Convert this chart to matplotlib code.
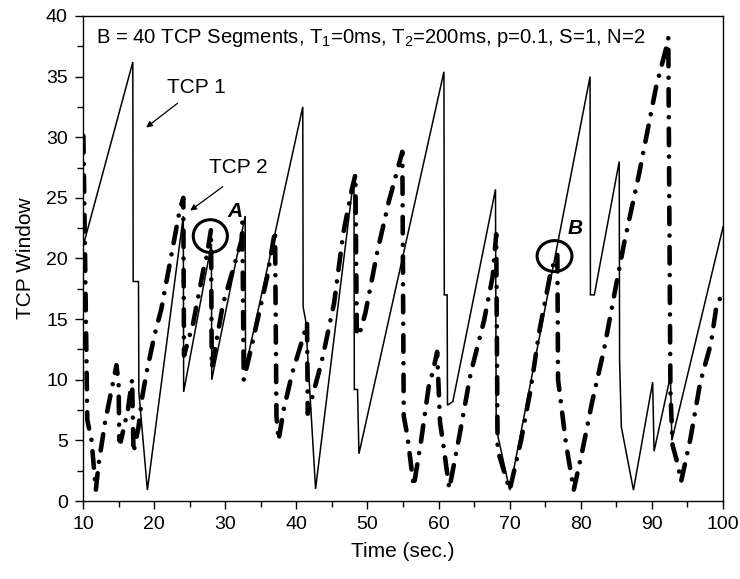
import matplotlib
matplotlib.use("Agg")
import matplotlib.pyplot as plt
from matplotlib.patches import Ellipse
from matplotlib.ticker import MultipleLocator

plt.rcParams["font.family"] = ["Liberation Sans", "DejaVu Sans"]
plt.rcParams["mathtext.fontset"] = "custom"
plt.rcParams["mathtext.rm"] = "Liberation Sans"
plt.rcParams["mathtext.it"] = "Liberation Sans:italic"

# TCP 1 window (solid), key points
tcp1_t = [10.0, 17.0, 17.05, 17.8, 17.85, 19.05, 24.1, 24.15, 28.05, 28.1,
          32.8, 32.85, 40.9, 40.95, 41.3, 42.7, 48.1, 48.15, 48.6, 48.8,
          60.75, 60.8, 61.2, 61.25, 62.0, 68.0, 68.1, 70.0, 81.3, 81.35,
          81.9, 85.4, 85.45, 85.7, 87.4, 90.1, 90.3, 92.6, 92.8, 100.0]
tcp1_w = [21.0, 36.2, 18.1, 18.1, 9.0, 0.9, 23.5, 9.0, 21.2, 10.0,
          23.5, 11.0, 32.5, 16.0, 14.9, 1.0, 26.8, 9.2, 9.2, 3.9,
          35.4, 17.0, 17.0, 7.9, 8.2, 25.7, 6.0, 0.9, 35.0, 17.0,
          17.0, 28.0, 11.6, 6.1, 0.9, 9.8, 4.1, 10.3, 5.0, 22.6]

# TCP 2 window (dash-dot)
tcp2_t = [10.05, 10.6, 11.2, 11.8, 12.2, 13.1, 14.7, 15.0, 15.1, 15.3,
          16.3, 16.9, 17.1, 17.8, 18.3, 19.0, 20.1, 21.0, 23.6, 24.1,
          24.2, 25.5, 26.9, 27.4, 28.0, 28.1, 29.7, 32.3, 32.4, 32.6,
          33.8, 35.9, 37.0, 37.2, 37.5, 38.2, 39.4, 41.0, 41.5, 41.6,
          42.2, 43.6, 45.3, 46.6, 47.8, 48.3, 48.5, 48.8, 49.7, 51.4,
          53.0, 54.9, 55.1, 55.6, 56.5, 57.5, 58.6, 59.2, 59.8, 60.2,
          60.7, 61.5, 62.9, 64.5, 66.4, 67.6, 68.1, 68.3, 70.0, 71.6,
          73.0, 74.1, 75.8, 76.7, 76.8, 77.9, 79.0, 80.2, 81.6, 83.3,
          84.7, 86.1, 88.2, 90.6, 92.2, 92.3, 92.6, 92.9, 93.6, 94.1,
          95.4, 96.8, 98.3, 99.0, 100.0]
tcp2_w = [30.1, 6.7, 5.0, 0.9, 3.1, 6.5, 11.2, 9.7, 5.0, 4.9,
          7.5, 10.0, 4.0, 6.1, 8.5, 10.8, 13.8, 15.8, 24.0, 25.0,
          12.0, 14.7, 19.0, 20.2, 22.4, 11.0, 16.3, 21.5, 23.0, 10.0,
          13.0, 18.5, 22.3, 7.0, 5.0, 7.5, 10.5, 13.6, 14.7, 7.2,
          8.5, 11.6, 16.3, 22.1, 25.7, 26.9, 14.0, 13.6, 15.5, 20.6,
          24.7, 28.8, 7.0, 5.4, 1.2, 4.8, 9.4, 10.7, 12.3, 6.5,
          4.5, 1.0, 5.3, 10.5, 14.9, 18.5, 22.0, 4.2, 0.9, 5.0,
          9.4, 13.8, 19.0, 20.3, 10.0, 4.8, 0.9, 4.1, 8.2, 12.6,
          17.0, 21.3, 27.0, 34.2, 37.8, 38.2, 9.0, 4.6, 3.1, 1.6,
          5.1, 9.8, 13.0, 15.8, 17.4]

fig = plt.figure(figsize=(7.4, 5.79), dpi=100)
ax = fig.add_axes([0.1122, 0.1347, 0.8649, 0.8377])

ax.plot(tcp1_t, tcp1_w, color="black", lw=1.1, solid_joinstyle="miter")
ax.plot(tcp2_t, tcp2_w, color="black", lw=3.3,
        linestyle=(0, (3.6, 2.5, 0.01, 2.5)), dash_capstyle="round")

# circled regions
ax.add_patch(Ellipse((27.9, 21.85), 4.8, 2.7, fill=False, lw=2.2, color="black"))
ax.add_patch(Ellipse((76.3, 20.2), 4.9, 2.55, fill=False, lw=2.2, color="black"))
ax.text(31.35, 23.9, "A", fontsize=15, fontweight="bold", fontstyle="italic",
        ha="center", va="center")
ax.text(79.2, 22.5, "B", fontsize=15, fontweight="bold", fontstyle="italic",
        ha="center", va="center")

arrow = dict(arrowstyle="-|>", lw=0.9, color="black", mutation_scale=9,
             shrinkA=0, shrinkB=0)
ax.annotate("", xy=(18.87, 30.8), xytext=(23.28, 32.8), arrowprops=arrow)
ax.annotate("", xy=(25.07, 23.95), xytext=(29.66, 25.93), arrowprops=arrow)
ax.text(25.9, 34.1, "TCP 1", fontsize=15, ha="center", va="center")
ax.text(31.8, 27.5, "TCP 2", fontsize=15, ha="center", va="center")

ax.text(11.8, 37.8,
        r"B = 40 TCP Segments, T$_{\mathregular{1}}$=0ms, "
        r"T$_{\mathregular{2}}$=200ms, p=0.1, S=1, N=2",
        fontsize=14.6, ha="left", va="baseline")

ax.set_xlim(10, 100)
ax.set_ylim(0, 40)
ax.xaxis.set_major_locator(MultipleLocator(10))
ax.xaxis.set_minor_locator(MultipleLocator(5))
ax.yaxis.set_major_locator(MultipleLocator(5))
ax.yaxis.set_minor_locator(MultipleLocator(2.5))
ax.tick_params(which="both", direction="out", top=False, right=False,
               labelsize=14, width=1.0)
ax.tick_params(which="major", length=6, pad=5)
ax.tick_params(which="minor", length=4)
for s in ax.spines.values():
    s.set_linewidth(1.0)

ax.set_xlabel("Time (sec.)", fontsize=15, labelpad=6)
ax.set_ylabel("TCP Window", fontsize=15, labelpad=8)

fig.savefig("out.png", dpi=100)
